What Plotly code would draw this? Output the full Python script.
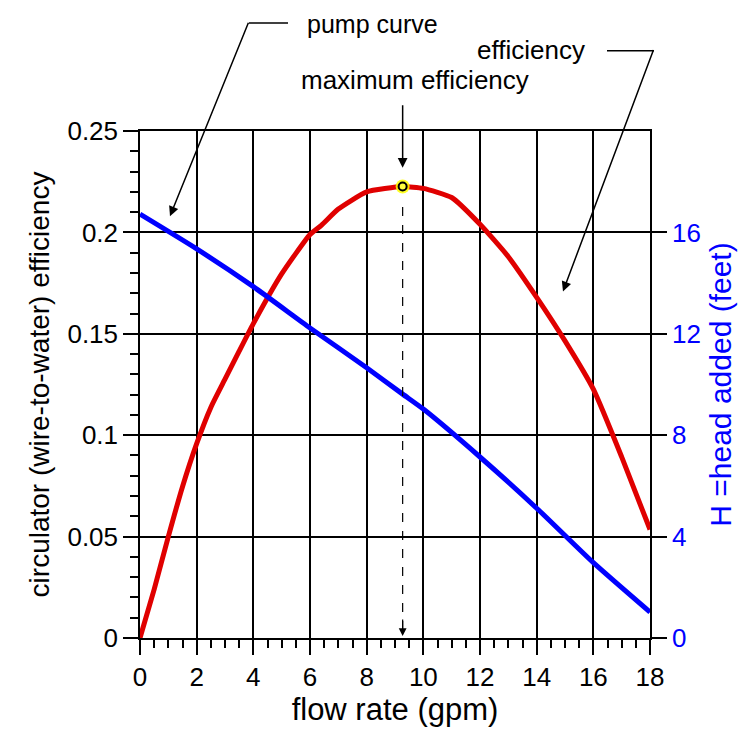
import plotly.graph_objects as go

# ---- data ----
eff_flow = [0, 0.5, 1, 1.5, 2, 2.5, 3, 3.5, 4, 5, 6, 6.4, 7, 8, 9.27, 10, 11, 12, 13, 14, 15, 16, 17, 18]
eff_vals = [0, 0.024, 0.05, 0.0746, 0.0958, 0.1137, 0.1276, 0.1414, 0.155, 0.1795, 0.199, 0.2035, 0.2115, 0.22, 0.2226, 0.2217, 0.2172, 0.204, 0.188, 0.168, 0.1465, 0.1227, 0.0893, 0.0535]

head_flow = [0, 2, 4, 6, 8, 9.27, 10, 12, 14, 16, 18]
head_vals = [16.72, 15.35, 13.86, 12.23, 10.66, 9.62, 9.03, 7.14, 5.12, 2.97, 1.02]

max_flow = [9.27]
max_eff = [0.2226]

x_ticks = [0, 2, 4, 6, 8, 10, 12, 14, 16, 18]
x_ticklabels = ["0", "2", "4", "6", "8", "10", "12", "14", "16", "18"]
y_ticks = [0, 0.05, 0.1, 0.15, 0.2, 0.25]
y_ticklabels = ["0", "0.05", "0.1", "0.15", "0.2", "0.25"]
y2_ticks = [0, 4, 8, 12, 16]
y2_ticklabels = ["0", "4", "8", "12", "16"]

FONT = "Liberation Sans, Arial, Helvetica, sans-serif"
BLUE = "#0000ff"
RED = "#e00000"

# plot-area geometry in page pixels (page has an 8px body margin)
OFF = 8
L, R, T, B = 140, 650, 131, 643
W, H = 752 - OFF, 732 - OFF
def pxx(x):
    return (x - L) / (R - L)
def pxy(y):
    return (B - y) / (B - T)

fig = go.Figure()

fig.add_trace(go.Scatter(x=head_flow, y=head_vals, mode="lines", yaxis="y2",
                         line=dict(color=BLUE, width=5, shape="spline", smoothing=0.6),
                         showlegend=False, hoverinfo="skip"))
fig.add_trace(go.Scatter(x=eff_flow, y=eff_vals, mode="lines",
                         line=dict(color=RED, width=5, shape="spline", smoothing=0.5),
                         showlegend=False, hoverinfo="skip"))
fig.add_trace(go.Scatter(x=max_flow, y=max_eff, mode="markers",
                         marker=dict(size=14, color="rgba(255,255,0,0.85)", line=dict(width=0)),
                         showlegend=False, hoverinfo="skip"))
fig.add_trace(go.Scatter(x=max_flow, y=max_eff, mode="markers",
                         marker=dict(size=8, color="#ffff40", line=dict(width=2, color="black")),
                         showlegend=False, hoverinfo="skip"))

axis_common = dict(showline=True, linecolor="black", linewidth=1.5,
                   ticks="outside", ticklen=15, tickwidth=1.5, tickcolor="black",
                   zeroline=False)

fig.update_layout(
    width=W, height=H,
    margin=dict(l=L - OFF, r=W - (R - OFF), t=T - OFF, b=H - (B - OFF)),
    paper_bgcolor="white", plot_bgcolor="white",
    font=dict(family=FONT, size=26, color="black"),
    xaxis=dict(range=[0, 18], tickvals=x_ticks, ticktext=x_ticklabels,
               showgrid=True, gridcolor="black", gridwidth=1.5, mirror=True,
               minor=dict(dtick=0.5, ticks="outside", ticklen=8, tickwidth=1.5, tickcolor="black", showgrid=False),
               title=dict(text="flow rate (gpm)", font=dict(size=31), standoff=6),
               tickfont=dict(size=26), **axis_common),
    yaxis=dict(range=[0, 0.25], tickvals=y_ticks, ticktext=y_ticklabels,
               showgrid=True, gridcolor="black", gridwidth=1.5,
               minor=dict(dtick=0.01, ticks="outside", ticklen=8, tickwidth=1.5, tickcolor="black", showgrid=False),
               title=dict(text="circulator (wire-to-water) efficiency", font=dict(size=28), standoff=10),
               tickfont=dict(size=26), **axis_common),
    yaxis2=dict(range=[0, 20], tickvals=y2_ticks, ticktext=y2_ticklabels, overlaying="y", side="right",
                showgrid=False,
                title=dict(text="H =head added (feet)", font=dict(size=30, color=BLUE), standoff=10),
                tickfont=dict(size=26, color=BLUE), **axis_common),
)

# leader lines (horizontal parts)
fig.add_shape(type="line", xref="paper", yref="paper", x0=pxx(249), x1=pxx(288), y0=pxy(22), y1=pxy(22),
              line=dict(color="black", width=1.5))
fig.add_shape(type="line", xref="paper", yref="paper", x0=pxx(607), x1=pxx(654), y0=pxy(50), y1=pxy(50),
              line=dict(color="black", width=1.5))
# dashed line down from the maximum
fig.add_shape(type="line", xref="x", yref="y", x0=max_flow[0], x1=max_flow[0], y0=0.004, y1=max_eff[0] - 0.006,
              line=dict(color="black", width=1.2, dash="dash"))

ann = []
ann.append(dict(x=(170 - L) / (R - L) * 18, y=(B - 217) / (B - T) * 0.25, xref="x", yref="y",
                ax=79, ay=-195, showarrow=True, arrowhead=2, arrowsize=1.3, arrowwidth=1.5, arrowcolor="black", text=""))
ann.append(dict(x=(563 - L) / (R - L) * 18, y=(B - 293) / (B - T) * 0.25, xref="x", yref="y",
                ax=91, ay=-243, showarrow=True, arrowhead=2, arrowsize=1.3, arrowwidth=1.5, arrowcolor="black", text=""))
ann.append(dict(x=max_flow[0], y=(B - 168) / (B - T) * 0.25, xref="x", yref="y",
                ax=0, ay=-64, showarrow=True, arrowhead=2, arrowsize=1.3, arrowwidth=1.5, arrowcolor="black", text=""))
ann.append(dict(x=max_flow[0], y=0.001, xref="x", yref="y",
                ax=0, ay=-18, showarrow=True, arrowhead=2, arrowsize=1.3, arrowwidth=1.2, arrowcolor="black", text=""))
ann.append(dict(x=pxx(305), y=pxy(23), xref="paper", yref="paper", xanchor="left", yanchor="middle",
                text="pump curve", showarrow=False, font=dict(size=25)))
ann.append(dict(x=pxx(587), y=pxy(49), xref="paper", yref="paper", xanchor="right", yanchor="middle",
                text="efficiency", showarrow=False, font=dict(size=26)))
ann.append(dict(x=pxx(415), y=pxy(80), xref="paper", yref="paper", xanchor="center", yanchor="middle",
                text="maximum efficiency", showarrow=False, font=dict(size=26)))
fig.update_layout(annotations=ann)

fig.write_html("out.html")
